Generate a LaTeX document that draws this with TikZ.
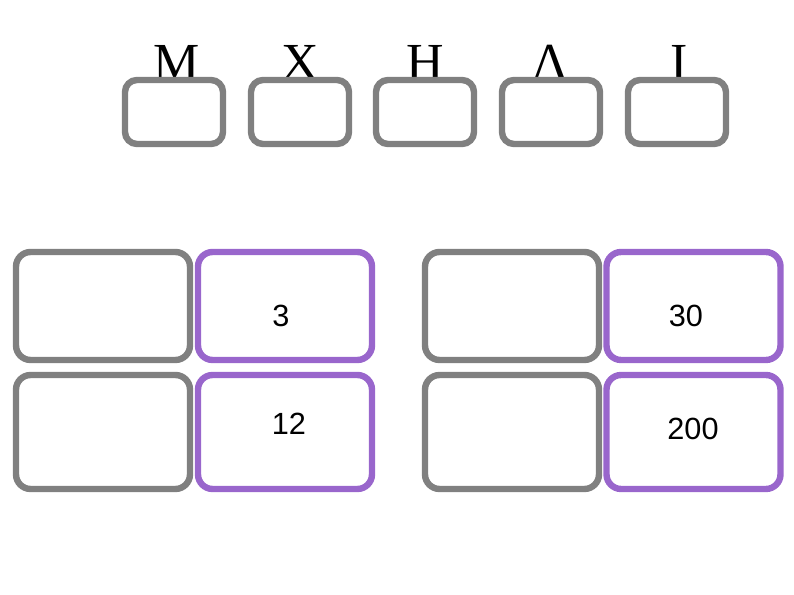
\documentclass[tikz,border=0pt]{standalone}
\usepackage{fontspec}
\setmainfont{Liberation Serif}
\newfontfamily\numfont{Liberation Sans}
\definecolor{boxgray}{RGB}{128,128,128}
\definecolor{boxpurple}{RGB}{153,102,204}
\tikzset{
  px/.style={x=0.75pt,y=-0.75pt},
  smallbox/.style={draw=boxgray, line width=4.8pt, rounded corners=9pt, minimum width=73.5pt, minimum height=48pt, inner sep=0pt},
  graybox/.style={draw=boxgray, line width=4.8pt, rounded corners=11pt, minimum width=130.5pt, inner sep=0pt},
  purplebox/.style={draw=boxpurple, line width=4.8pt, rounded corners=11pt, minimum width=130.5pt, inner sep=0pt},
  greek/.style={font=\fontsize{39}{39}\selectfont, anchor=base, inner sep=0pt},
  num/.style={font=\numfont\fontsize{23}{23}\selectfont, inner sep=0pt}
}
\begin{document}
\begin{tikzpicture}[px]
\useasboundingbox (0,0) rectangle (794,595);
% Greek letters
\node[greek] (lM) at (177,80) {Μ};
\node[greek] (lX) at (300,80) {Χ};
\node[greek] (lH) at (425,80) {Η};
\node[greek] (lL) at (550,80) {Λ};
\node[greek] (lI) at (679,80) {Ι};
% small boxes
\node[smallbox] (s1) at (174,112) {};
\node[smallbox] (s2) at (300,112) {};
\node[smallbox] (s3) at (425,112) {};
\node[smallbox] (s4) at (551,112) {};
\node[smallbox] (s5) at (677,112) {};
% big boxes row 1
\node[graybox, minimum height=81pt] (g1) at (103,306) {};
\node[purplebox, minimum height=81pt] (p1) at (285,306) {};
\node[graybox, minimum height=81pt] (g2) at (512,306) {};
\node[purplebox, minimum height=81pt] (p2) at (693.5,306) {};
% big boxes row 2
\node[graybox, minimum height=85.5pt] (g3) at (103,432) {};
\node[purplebox, minimum height=85.5pt] (p3) at (285,432) {};
\node[graybox, minimum height=85.5pt] (g4) at (512,432) {};
\node[purplebox, minimum height=85.5pt] (p4) at (693.5,432) {};
% numbers
\node[num] (n3) at (281,316) {3};
\node[num] (n12) at (289,424) {12};
\node[num] (n30) at (686,316) {30};
\node[num] (n200) at (693,429) {200};
\end{tikzpicture}
\end{document}
